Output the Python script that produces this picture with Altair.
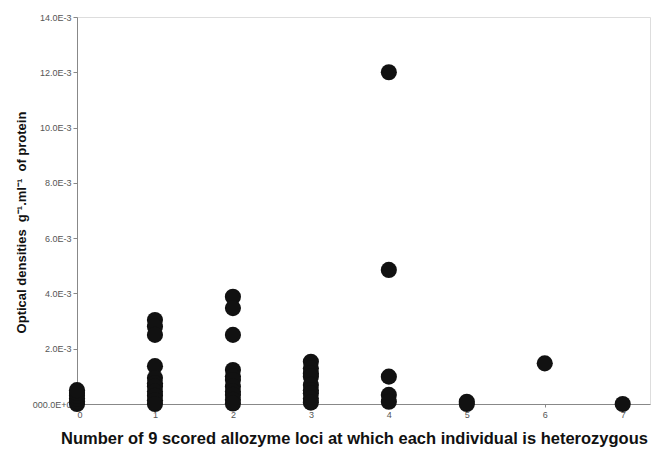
import altair as alt
import pandas as pd

# heterozygous loci count and optical density (x 1E-3)
x0 = [0, 0, 0, 0, 0, 0]
y0 = [0.0, 0.1, 0.2, 0.3, 0.4, 0.5]
x1 = [1] * 11
y1 = [3.04, 2.8, 2.5, 1.37, 0.94, 0.75, 0.63, 0.45, 0.3, 0.14, 0.0]
x2 = [2] * 11
y2 = [3.88, 3.47, 2.5, 1.23, 1.0, 0.87, 0.63, 0.45, 0.33, 0.15, 0.02]
x3 = [3] * 9
y3 = [1.53, 1.29, 1.1, 0.99, 0.69, 0.5, 0.39, 0.2, 0.05]
x4 = [4] * 5
y4 = [12.0, 4.85, 0.99, 0.33, 0.08]
x5 = [5, 5]
y5 = [0.08, 0.0]
x6 = [6]
y6 = [1.47]
x7 = [7]
y7 = [0.0]

xs = x0 + x1 + x2 + x3 + x4 + x5 + x6 + x7
ys = y0 + y1 + y2 + y3 + y4 + y5 + y6 + y7
df = pd.DataFrame({"loci": xs, "od": ys})

x_ticks = [0, 1, 2, 3, 4, 5, 6, 7]
y_ticks = [0, 2, 4, 6, 8, 10, 12, 14]

chart = alt.Chart(df).mark_circle(size=260, color="#111111", opacity=1).encode(
    x=alt.X("loci:Q",
            scale=alt.Scale(domain=[0, 7.35], nice=False, zero=False),
            axis=alt.Axis(values=x_ticks, grid=False, title="Number of 9 scored allozyme loci at which each individual is heterozygous",
                          labelFontSize=9, labelColor="#555555", labelFont="Liberation Sans",
                          domainColor="#888888", tickColor="#888888", tickSize=3, labelPadding=3,
                          titleFont="Liberation Sans", titleFontSize=16.5, titleFontWeight="bold",
                          titleColor="#111111", titleX=277, titlePadding=11)),
    y=alt.Y("od:Q",
            scale=alt.Scale(domain=[0, 14], nice=False),
            axis=alt.Axis(values=y_ticks, grid=False,
                          title="Optical densities \u00a0g\u207b\u00b9.ml\u207b\u00b9 \u00a0of protein",
                          labelExpr="datum.value == 0 ? '000.0E+0' : format(datum.value, '.1f') + 'E-3'",
                          labelFontSize=9, labelColor="#555555", labelFont="Liberation Sans",
                          domainColor="#888888", tickColor="#888888", tickSize=4, labelPadding=2,
                          titleFont="Liberation Sans", titleFontSize=13, titleFontWeight="bold",
                          titleColor="#111111", titlePadding=4, titleY=205)),
).properties(
    width=573, height=387,
    autosize=alt.AutoSizeParams(type="none"),
    padding={"left": 69, "top": 9, "right": 1, "bottom": 46},
).configure_view(stroke=None).configure(background="white")

chart.save("out.html", embed_options={"renderer": "svg", "actions": False})
